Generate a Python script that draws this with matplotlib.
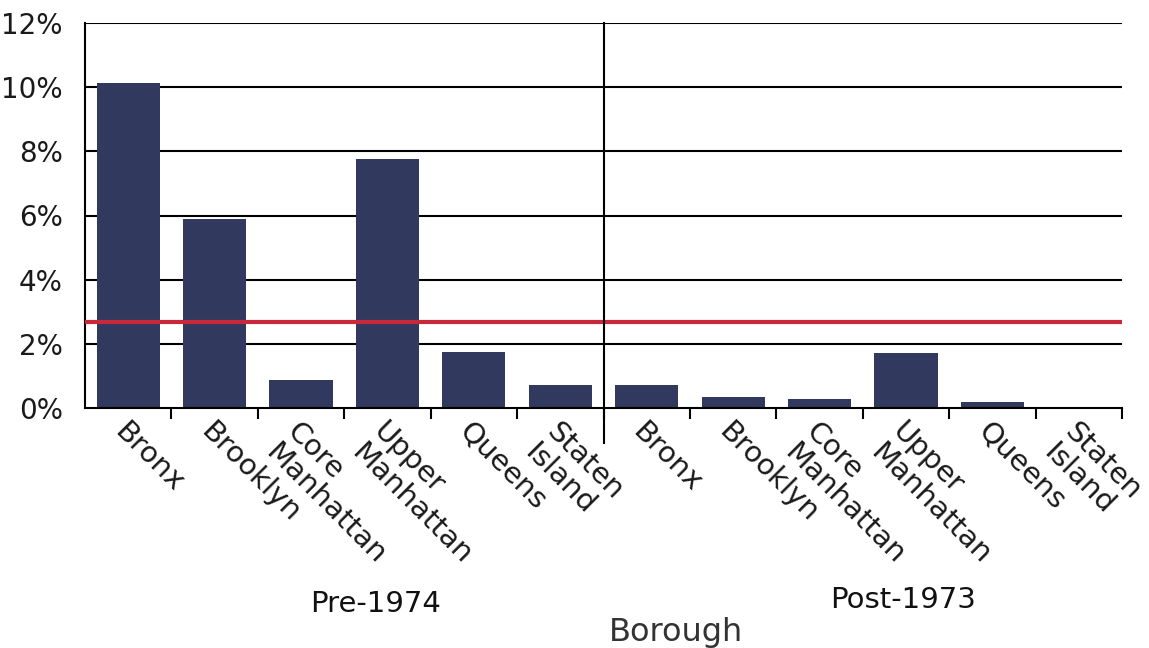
import matplotlib.pyplot as plt
from matplotlib import transforms

# data
boroughs = ["Bronx", "Brooklyn", "Core\nManhattan", "Upper\nManhattan", "Queens", "Staten\nIsland"]
pre_1974 = [10.12, 5.88, 0.88, 7.75, 1.75, 0.71]
post_1973 = [0.71, 0.33, 0.28, 1.70, 0.18, 0.03]
groups = ["Pre-1974", "Post-1973"]
citywide = 2.68
y_ticks = [0, 2, 4, 6, 8, 10, 12]

bar_color = "#313a5e"
red = "#c8283a"

plt.rcParams['font.family'] = ['DejaVu Sans']

fig = plt.figure(figsize=(11.49, 6.48), dpi=100)
ax = fig.add_axes([85 / 1149, 1 - 408 / 648, (1122 - 85) / 1149, 385 / 648])

values = pre_1974 + post_1973
labels = boroughs + boroughs
xs = list(range(len(values)))

ax.bar(xs, values, width=0.73, color=bar_color, zorder=3)

ax.set_xlim(-0.5, len(values) - 0.5)
ax.set_ylim(0, 12)
ax.set_yticks(y_ticks)
ax.set_yticklabels([f"{t}%" for t in y_ticks], fontsize=20, color="#1a1a1a")
ax.tick_params(axis="y", length=0, pad=16)

# gridlines
for t in y_ticks[1:]:
    ax.axhline(t, color="black", lw=1.5, zorder=1)

# citywide line
ax.axhline(citywide, color=red, lw=3, zorder=4)

# spines
for s in ["top", "right"]:
    ax.spines[s].set_visible(False)
ax.spines["left"].set_linewidth(1.5)
ax.spines["bottom"].set_linewidth(1.5)
ax.spines["bottom"].set_zorder(5)

# x ticks at category boundaries
ax.set_xticks([x + 0.5 for x in xs])
ax.set_xticklabels([])
ax.tick_params(axis="x", length=8, width=1.5, direction="out")

# separator between groups
ax.plot([5.5, 5.5], [12, -1.1], color="black", lw=1.5, clip_on=False, zorder=6)

# category labels
trans = transforms.blended_transform_factory(ax.transData, ax.transAxes)
for x, lab in zip(xs, labels):
    ax.text(x + 0.0, -0.024, lab, transform=trans, rotation=-45, ha="left", va="top",
            rotation_mode="anchor", fontsize=21, color="#1a1a1a", linespacing=1.1)

# group labels
ax.text(2.86, -0.51, groups[0], transform=trans, ha="center", va="center", fontsize=21, color="#111111")
ax.text(8.97, -0.50, groups[1], transform=trans, ha="center", va="center", fontsize=21, color="#111111")

fig.text(676 / 1149, 1 - 633 / 648, "Borough", ha="center", va="center", fontsize=23, color="#333333")

fig.savefig("out.png", dpi=100)
